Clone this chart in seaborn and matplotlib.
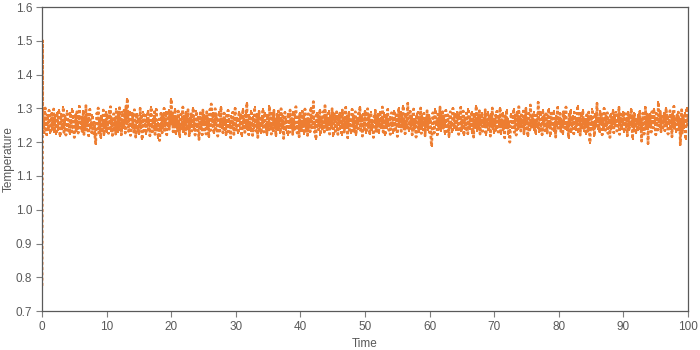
import numpy as np
import pandas as pd
import matplotlib
matplotlib.use("Agg")
import matplotlib.pyplot as plt
import seaborn as sns

# Start-up transient (temperature values at t ~ 0)
transient_time = [0.0, 0.005, 0.01, 0.015, 0.02, 0.025, 0.03, 0.035, 0.04, 0.045,
                  0.05, 0.055, 0.06, 0.065, 0.07, 0.075, 0.08, 0.085, 0.09, 0.095]
transient_temp = [0.775, 0.799, 0.843, 0.869, 0.948, 1.005, 1.009, 1.046, 1.068, 1.085,
                  1.103, 1.125, 1.147, 1.169, 1.187, 1.212, 1.242, 1.368, 1.468, 1.500]

# Main series: temperature in thousandths above 1.0, sampled every 0.1 time units from t=0.1
temp_milli = [
    243, 271, 228, 289, 301, 252, 222, 279, 261, 236, 294, 266, 226, 248, 285, 238, 259, 298, 231, 275,
    250, 224, 287, 264, 237, 296, 256, 217, 270, 282, 240, 254, 303, 229, 262, 278, 221, 249, 291, 235,
    266, 244, 225, 286, 257, 231, 299, 272, 247, 214, 260, 281, 234, 290, 251, 227, 268, 306, 258, 241,
    273, 232, 253, 293, 223, 266, 246, 308, 236, 283, 260, 219, 271, 297, 243, 257, 228, 280, 250, 225,
    259, 218, 196, 237, 286, 254, 301, 227, 270, 248, 212, 277, 235, 260, 295, 222, 264, 243, 288, 230,
    280, 250, 226, 291, 260, 305, 233, 267, 220, 254, 284, 239, 270, 224, 297, 257, 231, 282, 246, 302,
    236, 269, 222, 288, 258, 241, 294, 277, 227, 307, 253, 329, 279, 232, 262, 290, 220, 268, 244, 285,
    257, 230, 296, 265, 215, 251, 283, 237, 268, 224, 258, 300, 242, 276, 208, 261, 288, 234, 255, 279,
    225, 271, 248, 292, 238, 260, 219, 284, 303, 254, 231, 269, 246, 290, 223, 266, 297, 240, 257, 213,
    268, 205, 244, 285, 255, 228, 279, 251, 300, 235, 260, 289, 222, 270, 247, 295, 238, 281, 262, 327,
    253, 287, 231, 266, 247, 298, 223, 274, 257, 235, 292, 249, 216, 268, 283, 240, 261, 304, 229, 277,
    251, 224, 288, 263, 238, 296, 258, 217, 271, 246, 284, 233, 260, 301, 240, 268, 221, 255, 291, 244,
    274, 232, 208, 257, 287, 241, 265, 222, 295, 252, 279, 236, 261, 224, 290, 249, 270, 215, 258, 297,
    235, 313, 268, 247, 285, 226, 259, 299, 239, 276, 251, 218, 265, 289, 233, 256, 304, 242, 270, 228,
    258, 286, 237, 262, 220, 279, 248, 294, 231, 269, 255, 213, 276, 244, 288, 259, 223, 267, 300, 248,
    236, 272, 252, 226, 290, 259, 240, 281, 217, 256, 297, 246, 268, 229, 286, 253, 316, 238, 264, 222,
    279, 249, 233, 293, 256, 220, 274, 242, 303, 261, 233, 284, 251, 214, 268, 291, 238, 258, 227, 276,
    248, 298, 230, 264, 287, 240, 255, 222, 280, 259, 236, 306, 270, 247, 224, 285, 256, 232, 294, 253,
    266, 219, 257, 282, 237, 292, 249, 272, 227, 299, 254, 241, 277, 211, 260, 288, 236, 268, 248, 222,
    284, 256, 229, 295, 259, 243, 270, 223, 289, 252, 238, 280, 305, 247, 227, 274, 257, 216, 286, 241,
    261, 234, 291, 251, 277, 225, 298, 256, 239, 268, 220, 284, 248, 260, 231, 302, 271, 243, 254, 320,
    268, 229, 255, 209, 287, 247, 279, 237, 261, 296, 222, 272, 251, 239, 290, 258, 230, 308, 256, 281,
    235, 266, 250, 293, 224, 276, 257, 241, 299, 253, 217, 284, 260, 232, 269, 290, 247, 223, 279, 255,
    286, 238, 262, 221, 295, 251, 273, 230, 258, 303, 244, 277, 213, 259, 288, 236, 265, 249, 226, 297,
    247, 279, 232, 259, 290, 222, 268, 254, 240, 286, 262, 305, 235, 252, 274, 218, 282, 257, 238, 292,
    253, 228, 270, 299, 246, 281, 223, 261, 288, 237, 266, 250, 214, 277, 256, 294, 232, 268, 248, 284,
    226, 258, 290, 241, 273, 254, 304, 230, 263, 285, 220, 252, 279, 243, 297, 259, 235, 275, 223, 256,
    287, 248, 268, 228, 293, 257, 238, 281, 253, 217, 270, 300, 246, 261, 289, 232, 277, 250, 307, 240,
    265, 225, 284, 254, 241, 315, 270, 233, 257, 291, 248, 276, 222, 259, 298, 239, 268, 252, 215, 282,
    256, 288, 231, 263, 248, 301, 226, 277, 252, 236, 285, 259, 219, 272, 247, 293, 237, 258, 281, 228,
    268, 212, 188, 243, 287, 256, 227, 274, 297, 250, 264, 222, 283, 240, 259, 304, 233, 270, 248, 290,
    241, 276, 254, 224, 294, 260, 232, 281, 250, 216, 271, 290, 246, 258, 229, 300, 268, 243, 284, 256,
    236, 264, 288, 251, 223, 279, 255, 303, 232, 266, 247, 292, 220, 270, 258, 238, 286, 253, 225, 298,
    259, 239, 274, 252, 290, 228, 267, 215, 284, 256, 241, 307, 261, 234, 279, 250, 293, 224, 266, 254,
    285, 232, 258, 272, 244, 296, 222, 264, 251, 289, 237, 277, 259, 218, 282, 248, 301, 240, 270, 227,
    255, 280, 237, 291, 260, 230, 274, 250, 302, 224, 266, 253, 287, 235, 258, 213, 278, 246, 295, 242,
    268, 223, 256, 200, 235, 284, 259, 243, 271, 298, 229, 279, 251, 221, 289, 263, 238, 305, 255, 273,
    233, 281, 257, 247, 292, 225, 270, 253, 300, 240, 264, 217, 285, 256, 236, 310, 261, 244, 277, 250,
    288, 236, 266, 224, 280, 255, 243, 318, 258, 231, 290, 270, 248, 222, 295, 259, 278, 234, 254, 284,
    251, 227, 272, 299, 246, 262, 219, 286, 256, 238, 270, 293, 233, 259, 215, 277, 250, 303, 241, 267,
    258, 285, 232, 268, 253, 223, 290, 263, 241, 276, 304, 236, 259, 248, 213, 282, 256, 296, 230, 270,
    247, 278, 225, 288, 257, 237, 270, 250, 308, 229, 263, 285, 221, 255, 279, 242, 294, 259, 234, 268,
    253, 224, 281, 256, 233, 289, 265, 199, 243, 277, 257, 297, 238, 260, 218, 284, 251, 268, 315, 240,
    271, 249, 229, 292, 257, 282, 222, 264, 241, 300, 255, 235, 278, 250, 287, 226, 266, 256, 214, 284,
    238, 268, 255, 295, 228, 280, 251, 260, 288, 233, 271, 247, 305, 223, 259, 283, 240, 269, 254, 290,
    230, 257, 284, 244, 272, 219, 290, 256, 237, 281, 250, 299, 264, 210, 277, 243, 287, 255, 226, 268,
    259, 235, 280, 252, 293, 240, 266, 203, 248, 286, 256, 224, 274, 303, 238, 260, 283, 196, 268, 249,
    282, 254, 230, 290, 263, 242, 298, 252, 271, 222, 285, 258, 236, 318, 268, 247, 291, 229, 277, 256,
    243, 270, 286, 234, 259, 300, 249, 279, 224, 266, 253, 293, 238, 275, 216, 284, 257, 306, 241, 268,
    255, 229, 281, 261, 289, 237, 270, 193, 250, 296, 227, 277, 257, 242, 286, 208, 265, 302, 251, 280,
]
time_step = 0.1

x_ticks = [0, 10, 20, 30, 40, 50, 60, 70, 80, 90, 100]
y_ticks = [0.7, 0.8, 0.9, 1.0, 1.1, 1.2, 1.3, 1.4, 1.5, 1.6]

main_time = np.round(np.arange(1, len(temp_milli) + 1) * time_step, 3)
main_temp = 1.0 + np.array(temp_milli) / 1000.0

df = pd.DataFrame({
    "Time": np.concatenate([transient_time, main_time]),
    "Temperature": np.concatenate([transient_temp, main_temp]),
})

sns.set_theme(style="white")
plt.rcParams["font.family"] = ["Liberation Sans", "DejaVu Sans"]

fig = plt.figure(figsize=(7, 3.5), dpi=100)
ax = fig.add_axes([0.06, 0.111, 0.923, 0.869])

orange = "#ED7D31"
sns.lineplot(data=df, x="Time", y="Temperature", ax=ax, color=orange,
             linewidth=2.0, linestyle=(0, (1.0, 0.9)), estimator=None, sort=False)
sns.scatterplot(data=df.iloc[len(transient_time):], x="Time", y="Temperature", ax=ax,
                marker="s", s=4, color=orange, linewidth=0)

ax.set_xlim(0, 100)
ax.set_ylim(0.7, 1.6)
ax.set_xticks(x_ticks)
ax.set_yticks(y_ticks)
ax.set_xticklabels([str(v) for v in x_ticks])
ax.set_yticklabels([f"{v:.1f}" for v in y_ticks])

text_color = "#595959"
ax.tick_params(axis="both", which="major", direction="out", length=4, width=0.8,
               colors="#7f7f7f", labelcolor=text_color, labelsize=8.5,
               bottom=True, left=True, pad=3)
for s in ax.spines.values():
    s.set_visible(True)
    s.set_color("#595959")
    s.set_linewidth(0.9)

ax.set_xlabel("Time", fontsize=8.5, color=text_color, labelpad=4)
ax.set_ylabel("Temperature", fontsize=8.5, color=text_color)
ax.yaxis.set_label_coords(-0.042, 0.5)

fig.savefig("out.png", dpi=100)
